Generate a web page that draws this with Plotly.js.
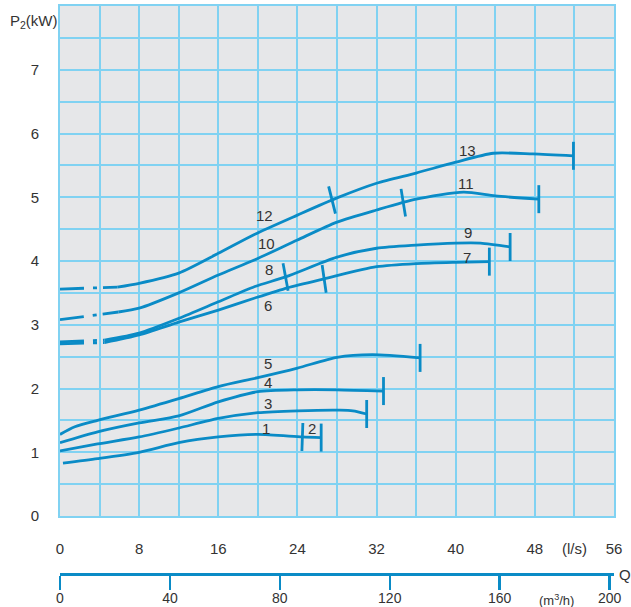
<!DOCTYPE html>
<html>
<head>
<meta charset="utf-8">
<script src="https://cdn.plot.ly/plotly-3.0.1.min.js"></script>
<style>html,body{margin:0;padding:0;background:#fff;}#chart{width:631px;height:607px;}</style>
</head>
<body>
<div id="chart"></div>
<script>
// ---- Data (Q in l/s, P2 in kW) ----
// Curve 12/13
const qA_dash = [0, 5.8];
const pA_dash = [3.56, 3.59];
const qA = [5.8, 8, 12, 16, 19.7, 24, 28, 32, 36, 40, 43.8, 47.8, 51.9];
const pA = [3.59, 3.65, 3.81, 4.12, 4.42, 4.72, 4.99, 5.22, 5.38, 5.55, 5.69, 5.68, 5.65];
// Curve 10/11
const qB_dash = [0, 5.9];
const pB_dash = [3.08, 3.2];
const qB = [5.9, 8, 12, 16, 19.7, 24, 28, 32, 36, 40.8, 44, 48.4];
const pB = [3.2, 3.26, 3.5, 3.78, 4.02, 4.33, 4.61, 4.8, 4.97, 5.08, 5.02, 4.97];
// Curve 8/9
const qC_dash = [0, 4.5];
const pC_dash = [2.73, 2.76];
const qC = [4.5, 8, 12, 16, 19.7, 22.8, 28, 32, 36, 40, 42.5, 45.5];
const pC = [2.76, 2.87, 3.1, 3.36, 3.6, 3.75, 4.06, 4.2, 4.25, 4.28, 4.28, 4.22];
// Curve 6/7
const qD_dash = [0, 4.5];
const pD_dash = [2.70, 2.72];
const qD = [4.5, 8, 12, 16, 19.7, 23, 26.7, 32, 36, 40, 43.4];
const pD = [2.72, 2.84, 3.04, 3.23, 3.42, 3.58, 3.72, 3.91, 3.96, 3.98, 3.99];
// Curve 5
const qE = [0, 1.5, 3.8, 8, 12, 16, 20, 24, 28, 31.6, 36.4];
const pE = [1.28, 1.4, 1.5, 1.66, 1.84, 2.03, 2.17, 2.32, 2.49, 2.53, 2.48];
// Curve 4
const qF = [0, 3.8, 8, 12, 16, 20, 24, 28, 32.7];
const pF = [1.15, 1.32, 1.46, 1.57, 1.79, 1.95, 1.98, 1.98, 1.96];
// Curve 3
const qG = [0, 3.8, 8, 12, 16, 20, 24, 28.3, 29.6, 31];
const pG = [1.02, 1.13, 1.24, 1.38, 1.53, 1.62, 1.65, 1.66, 1.65, 1.6];
// Curve 1/2
const qH = [0.3, 3.8, 8, 12, 16, 20, 24.5, 26.4];
const pH = [0.83, 0.9, 1.0, 1.15, 1.24, 1.28, 1.24, 1.23];

// Model split points (Q where one model ends on a shared curve)
const splitQ_A = 27.5, splitQ_B = 34.7, splitQ_C = 22.8, splitQ_D = 26.7, splitQ_H = 24.5;

// Curve labels
const labelText = ['12', '10', '8', '6', '13', '11', '9', '7', '5', '4', '3', '1', '2'];
const labelQ = [20.7, 20.9, 21.1, 21.0, 41.2, 41.0, 41.2, 41.1, 21.0, 21.0, 21.0, 20.8, 25.5];
const labelP = [4.72, 4.27, 3.86, 3.30, 5.74, 5.22, 4.44, 4.05, 2.40, 2.09, 1.77, 1.38, 1.38];

// Axis ticks
const xTickVals = [0, 4, 8, 12, 16, 20, 24, 28, 32, 36, 40, 44, 48, 52, 56];
const xTickText = ['0', ' ', '8', ' ', '16', ' ', '24', ' ', '32', ' ', '40', ' ', '48', '(l/s)', '56'];
const yTickVals = [0, 0.5, 1, 1.5, 2, 2.5, 3, 3.5, 4, 4.5, 5, 5.5, 6, 6.5, 7, 7.5, 8];
const yTickText = ['0', ' ', '1', ' ', '2', ' ', '3', ' ', '4', ' ', '5', ' ', '6', ' ', '7', ' ', ' '];
const m3hTickVals = [0, 40, 80, 120, 160, 200];
const m3hTickText = ['0', '40', '80', '120', '160', '200'];

// ---- Drawing ----
const blue = '#0a8bc6';
const grid = '#80d2f2';
const textColor = '#333333';
const fontFam = '"Liberation Sans", Arial, Helvetica, sans-serif';

const xMax = 56, yMax = 8;
const plotW = 554, plotH = 510;
const pxPerQ = plotW / xMax, pxPerP = plotH / yMax;

function interp(qs, ps, q) {
  for (let i = 0; i < qs.length - 1; i++) {
    if (q >= qs[i] && q <= qs[i + 1]) {
      const t = (q - qs[i]) / (qs[i + 1] - qs[i]);
      return { p: ps[i] + t * (ps[i + 1] - ps[i]), slope: (ps[i + 1] - ps[i]) / (qs[i + 1] - qs[i]) };
    }
  }
  return { p: ps[ps.length - 1], slope: 0 };
}

const traces = [];
function solid(q, p) {
  traces.push({ x: q, y: p, type: 'scatter', mode: 'lines', line: { color: blue, width: 2.8, shape: 'spline', smoothing: 0.7 }, hoverinfo: 'skip', showlegend: false });
}
function dashed(q, p) {
  traces.push({ x: q, y: p, type: 'scatter', mode: 'lines', line: { color: blue, width: 2.8, dash: '24px,9px,4px,6px' }, hoverinfo: 'skip', showlegend: false });
}
dashed(qA_dash, pA_dash); solid(qA, pA);
dashed(qB_dash, pB_dash); solid(qB, pB);
dashed(qC_dash, pC_dash); solid(qC, pC);
dashed(qD_dash, pD_dash); solid(qD, pD);
solid(qE, pE); solid(qF, pF); solid(qG, pG); solid(qH, pH);

// Tick marks: end of each curve (vertical) and model splits (perpendicular)
const tickX = [], tickY = [], tickAng = [];
[[qA, pA], [qB, pB], [qC, pC], [qD, pD], [qE, pE], [qF, pF], [qG, pG], [qH, pH]].forEach(([q, p]) => {
  tickX.push(q[q.length - 1]); tickY.push(p[p.length - 1]); tickAng.push(0);
});
[[qA, pA, splitQ_A], [qB, pB, splitQ_B], [qC, pC, splitQ_C], [qD, pD, splitQ_D], [qH, pH, splitQ_H]].forEach(([q, p, s]) => {
  const r = interp(q, p, s);
  const ang = Math.atan(r.slope * pxPerP / pxPerQ) * 180 / Math.PI;
  tickX.push(s); tickY.push(r.p); tickAng.push(-ang * 0.6);
});
traces.push({
  x: tickX, y: tickY, type: 'scatter', mode: 'markers', hoverinfo: 'skip', showlegend: false,
  marker: { symbol: 'line-ns-open', size: 20, angle: tickAng, color: blue, line: { color: blue, width: 2.8 } }
});

// invisible trace to activate xaxis2
traces.push({ x: [0, 201.6], y: [0, 0], xaxis: 'x2', yaxis: 'y', mode: 'markers', marker: { opacity: 0 }, hoverinfo: 'skip', showlegend: false });

const annotations = labelText.map((t, i) => ({
  x: labelQ[i], y: labelP[i], xref: 'x', yref: 'y', text: t, showarrow: false,
  font: { family: fontFam, size: 15, color: textColor }
}));
annotations.push({ xref: 'paper', yref: 'paper', x: -0.093, y: 0.972, xanchor: 'left', yanchor: 'middle',
  text: 'P<sub>2</sub>(kW)', showarrow: false, font: { family: fontFam, size: 15, color: textColor } });
annotations.push({ xref: 'x2', yref: 'paper', x: 180.8, y: -0.046, yanchor: 'middle', text: '(m<sup>3</sup>/h)', showarrow: false,
  font: { family: fontFam, size: 13, color: textColor } });
annotations.push({ xref: 'paper', yref: 'paper', x: 1.006, y: 0.0, xanchor: 'left', yanchor: 'middle', text: 'Q', showarrow: false,
  font: { family: fontFam, size: 15, color: textColor } });

const layout = {
  width: 631, height: 607,
  margin: { l: 60, r: 17, t: 6, b: 33 },
  paper_bgcolor: '#ffffff', plot_bgcolor: '#e6e7e9',
  showlegend: false,
  font: { family: fontFam, size: 15, color: textColor },
  xaxis: {
    range: [0, xMax], tickvals: xTickVals, ticktext: xTickText, showgrid: true, gridcolor: grid, gridwidth: 2,
    zeroline: false, showline: true, linecolor: grid, linewidth: 2, mirror: true,
    ticks: 'outside', ticklen: 18, tickcolor: 'rgba(0,0,0,0)', tickfont: { size: 15, color: textColor }, fixedrange: true
  },
  yaxis: {
    range: [0, yMax], domain: [0.1021, 1], tickvals: yTickVals, ticktext: yTickText, showgrid: true, gridcolor: grid, gridwidth: 2,
    zeroline: false, showline: true, linecolor: grid, linewidth: 2, mirror: true,
    ticks: 'outside', ticklen: 16, tickcolor: 'rgba(0,0,0,0)', tickfont: { size: 15, color: textColor }, fixedrange: true
  },
  xaxis2: {
    range: [0, 201.6], overlaying: 'x', anchor: 'free', position: 0, side: 'bottom',
    tickvals: m3hTickVals, ticktext: m3hTickText, showgrid: false, zeroline: false,
    showline: true, linecolor: blue, linewidth: 2.5, ticks: 'outside', ticklen: 14, tickwidth: 2.5, tickcolor: blue,
    ticklabelstandoff: -3,
    tickfont: { size: 14, color: textColor }, fixedrange: true
  },
  annotations: annotations
};

Plotly.newPlot('chart', traces, layout, { displayModeBar: false, staticPlot: true });
</script>
</body>
</html>
